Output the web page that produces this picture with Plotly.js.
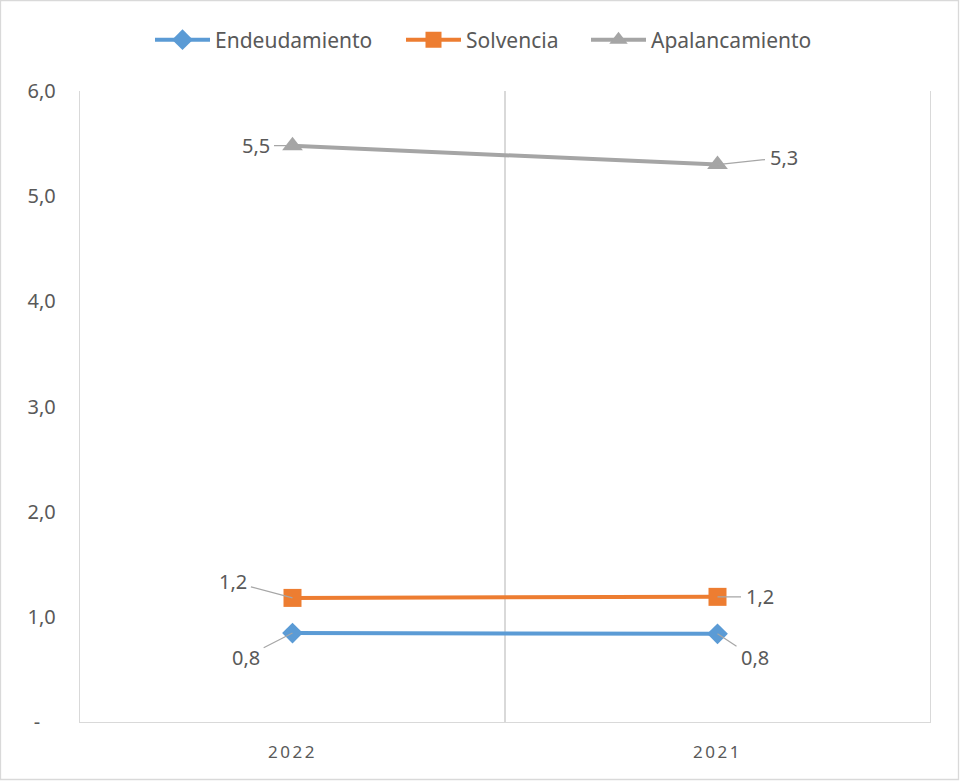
<!DOCTYPE html>
<html>
<head>
<meta charset="utf-8">
<script src="https://cdn.plot.ly/plotly-3.0.1.min.js"></script>
<style>
  body { margin: 0; background: #fff; }
  #chart { width: 960px; height: 781px; }
  .xtick text { letter-spacing: 2.5px; }
</style>
</head>
<body>
<div id="chart"></div>
<script>
// ---- data ----
const categories = ["2022", "2021"];
const endeudamiento = [0.846, 0.838];
const solvencia = [1.18, 1.19];
const apalancamiento = [5.48, 5.30];
const yTickVals = [0, 1, 2, 3, 4, 5, 6];
const yTickText = ["-\u00a0\u00a0\u00a0", "1,0", "2,0", "3,0", "4,0", "5,0", "6,0"];
const seriesNames = ["Endeudamiento", "Solvencia", "Apalancamiento"];

// ---- styles ----
const colors = ["#5B9BD5", "#ED7D31", "#A5A5A5"];
const symbols = ["diamond", "square", "triangle-up"];
const markerSizes = [16, 18, 18];
const legendLeftPx = [150, 401, 586];
// label offsets (px) per series per category
const labelOffsets = [
  [[-47, 24], [37, 24]],
  [[-60, -16], [42, 0]],
  [[-37, 0], [66, -7]]
];

const allSeries = [endeudamiento, solvencia, apalancamiento];
const fmt = v => v.toFixed(1).replace(".", ",");
const legendIds = ["legend", "legend2", "legend3"];

const traces = allSeries.map((vals, i) => ({
  type: "scatter",
  mode: "lines+markers",
  name: seriesNames[i],
  legend: legendIds[i],
  x: categories,
  y: vals,
  line: { color: colors[i], width: 4 },
  marker: { color: colors[i], symbol: symbols[i], size: markerSizes[i] },
  hoverinfo: "skip"
}));

const annotations = [];
allSeries.forEach((vals, i) => {
  vals.forEach((v, j) => {
    annotations.push({
      x: j, y: v, xref: "x", yref: "y",
      text: fmt(v),
      showarrow: true, arrowhead: 0, arrowwidth: 1.2, arrowcolor: "#A6A6A6",
      standoff: 0, startstandoff: 3,
      ax: labelOffsets[i][j][0], ay: labelOffsets[i][j][1],
      font: { family: "Noto Sans, sans-serif", size: 20, color: "#595959" }
    });
  });
});

const margin = { l: 80, r: 30, t: 91, b: 59 };
const W = 960, H = 781;
const pw = W - margin.l - margin.r, ph = H - margin.t - margin.b;
const px2x = p => (p - margin.l) / pw;
const px2y = p => 1 - (p - margin.t) / ph;

const layout = {
  width: W, height: H,
  margin: margin,
  paper_bgcolor: "#fff", plot_bgcolor: "#fff",
  font: { family: "Noto Sans, sans-serif", size: 20, color: "#595959" },
  showlegend: true,
  xaxis: {
    type: "category",
    range: [-0.5, 1.5],
    tickson: "boundaries",
    showgrid: true, gridcolor: "#D9D9D9", gridwidth: 1.3,
    showline: true, linecolor: "#D9D9D9", linewidth: 1.3,
    ticks: "", zeroline: false,
    tickfont: { size: 17, color: "#595959" },
    ticklabelstandoff: 14
  },
  yaxis: {
    range: [0, 6],
    tickvals: yTickVals, ticktext: yTickText,
    showgrid: false, zeroline: false,
    showline: true, mirror: true, linecolor: "#D9D9D9", linewidth: 1.3,
    ticks: "", ticklabelstandoff: 19,
    tickfont: { size: 20, color: "#595959" }
  },
  annotations: annotations,
  shapes: [{
    type: "rect", xref: "paper", yref: "paper",
    x0: px2x(0.5), x1: px2x(W - 1.5), y0: px2y(H - 1.5), y1: px2y(0.5),
    line: { color: "#D9D9D9", width: 1.3 }, fillcolor: "rgba(0,0,0,0)", layer: "below"
  }]
};
legendIds.forEach((id, i) => {
  layout[id] = {
    orientation: "h", x: px2x(legendLeftPx[i]), xanchor: "left",
    y: 1 + 51 / ph, yanchor: "middle",
    font: { size: 21, color: "#595959" }, itemwidth: 55,
    bgcolor: "rgba(0,0,0,0)"
  };
});

Plotly.newPlot("chart", traces, layout, { displayModeBar: false, staticPlot: true });
</script>
</body>
</html>
